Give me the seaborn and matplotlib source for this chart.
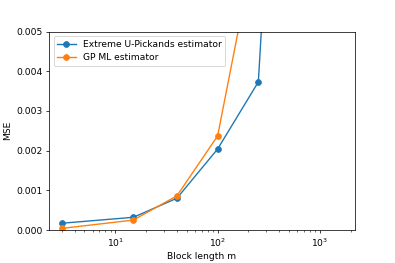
import numpy as np
import pandas as pd
import matplotlib
matplotlib.use("Agg")
import matplotlib.pyplot as plt
import seaborn as sns

# données
block_length = [3, 15, 40, 100, 250, 500]
mse_pickands = [0.00017, 0.00032, 0.00080, 0.00204, 0.00373, 0.0170]
mse_gpml = [0.00004, 0.00025, 0.00086, 0.00237, 0.0076, 0.0300]
labels = ["Extreme U-Pickands estimator", "GP ML estimator"]
colors = ["#1f77b4", "#ff7f0e"]

df = pd.DataFrame({
    "m": block_length * 2,
    "mse": mse_pickands + mse_gpml,
    "est": [labels[0]] * len(block_length) + [labels[1]] * len(block_length),
})

DPI = 65.83
fig, ax = plt.subplots(figsize=(395 / DPI, 263 / DPI), dpi=DPI)
fig.subplots_adjust(left=49 / 395, right=355 / 395, top=1 - 31.5 / 263, bottom=1 - 230 / 263)

for lab, col in zip(labels, colors):
    sub = df[df["est"] == lab]
    sns.lineplot(data=sub, x="m", y="mse", ax=ax, color=col, marker="o",
                 markeredgecolor=col, markersize=6.5, label=lab)

ax.set_xscale("log")
ax.set_xlim(2.25, 2200)
ax.set_ylim(0, 0.005)
ax.set_xlabel("Block length m")
ax.set_ylabel("MSE")
ax.legend(loc="upper left")

fig.savefig("out.png", dpi=DPI)
